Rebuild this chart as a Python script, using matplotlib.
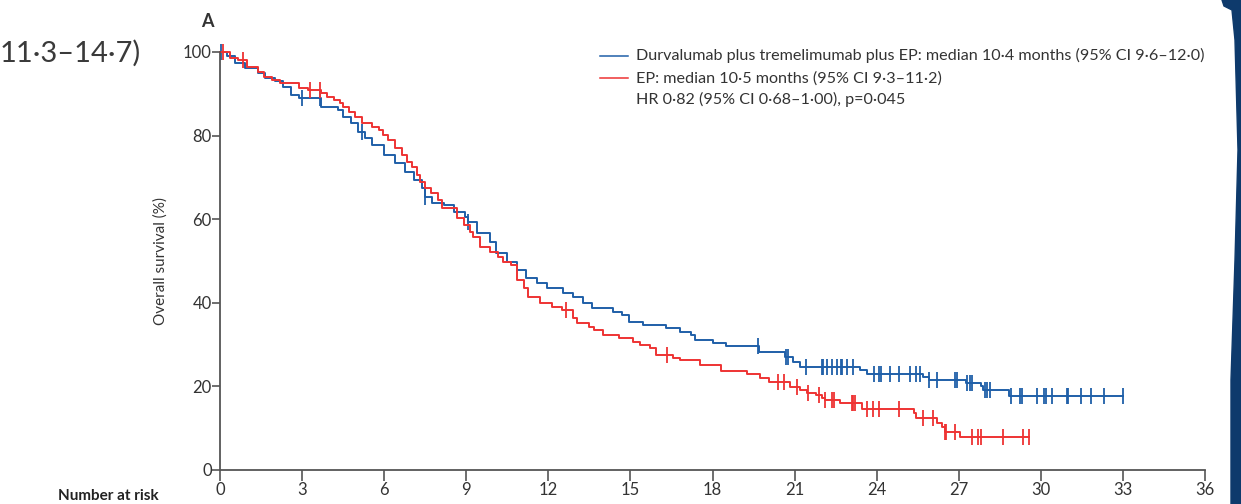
import numpy as np
import matplotlib
matplotlib.use("Agg")
import matplotlib.pyplot as plt
from matplotlib.patches import Polygon

plt.rcParams['font.family'] = ['Lato', 'DejaVu Sans']

# Kaplan-Meier steps (months, % alive)
durva_t = [0, 0.25, 0.55, 0.9, 1.4, 1.65, 2.0, 2.3, 2.6, 2.9, 3.7, 4.3, 4.5, 4.8, 5.05,
           5.3, 5.55, 6.0, 6.4, 6.75, 7.1, 7.4, 7.5, 7.75, 8.2, 8.55, 8.95, 9.05, 9.4,
           9.85, 10.1, 10.5, 10.85, 11.2, 11.6, 11.95, 12.55, 12.9, 13.25, 13.6, 14.35,
           14.7, 14.95, 15.45, 16.3, 16.8, 17.2, 17.35, 18.0, 18.5, 19.7, 20.65, 20.95,
           21.2, 23.4, 23.65, 25.7, 25.9, 27.25, 27.8, 27.9, 28.85, 33.0]
durva_s = [100, 99, 97.4, 96.2, 95, 93.8, 93, 91.6, 89.7, 89, 86.8, 86, 84.5, 83, 80.9,
           79.5, 77.8, 75.4, 73.4, 71.3, 69.4, 67.5, 65.3, 63.9, 63.4, 61.7, 60.5, 59.3, 56.7,
           54.5, 51.9, 49.8, 47.8, 45.9, 44.7, 43.5, 42.3, 41.4, 40, 38.8, 37.8,
           37.1, 35.4, 34.7, 34, 33, 32.3, 31.1, 30.4, 29.7, 28.2, 27, 25.8,
           24.6, 23.9, 22.9, 22.2, 21.5, 20.8, 20.0, 19.2, 17.6, 17.6]
durva_cens = [0.05, 3.0, 3.65, 5.2, 7.5, 9.05, 19.65, 20.7, 20.75, 21.4, 22.0, 22.05, 22.2,
              22.35, 22.55, 22.7, 22.75, 22.9, 23.15, 23.9, 24.1, 24.15, 24.5, 24.8, 25.2,
              25.45, 25.6, 25.9, 26.2, 26.85, 26.95, 27.3, 27.4, 27.5, 27.95, 28.05, 28.15,
              28.9, 29.25, 29.3, 29.85, 30.1, 30.2, 30.4, 30.95, 31.0, 31.45, 31.85, 32.3, 33.0]

ep_t = [0, 0.35, 0.65, 1.0, 1.4, 1.6, 1.9, 2.2, 2.9, 3.2, 3.7, 3.9, 4.15, 4.4, 4.5, 4.7,
        4.95, 5.2, 5.55, 5.8, 5.95, 6.15, 6.4, 6.65, 6.85, 7.0, 7.2, 7.3, 7.5, 7.7, 7.95,
        8.1, 8.65, 8.9, 9.15, 9.25, 9.5, 9.85, 10.15, 10.35, 10.65, 10.85, 11.1, 11.25,
        11.7, 12.15, 12.5, 12.9, 13.05, 13.5, 13.65, 14.0, 14.6, 15.1, 15.35, 15.7, 15.95,
        16.55, 16.8, 17.55, 18.3, 19.25, 19.75, 20.05, 20.85, 21.2, 21.45, 21.8, 22.0,
        22.1, 22.65, 23.45, 25.35, 25.45, 26.2, 26.4, 26.5, 27.05, 29.55]
ep_s = [100, 98.6, 98, 96.4, 95.2, 94, 93.3, 92.6, 91.4, 90.9, 90.2, 89.2, 88.5, 87.8, 86.8, 85.6,
        84.4, 83, 82.1, 81.3, 80.1, 78.9, 77, 75.4, 73.7, 72.5, 70.6, 68.9, 67.5, 66.3, 64.6,
        62.7, 60.3, 58.6, 56.9, 55.7, 53.3, 52.2, 51, 49.8, 49, 45.5, 43.5, 41.4,
        40, 39, 38.3, 36.4, 35.2, 34.2, 33.5, 32.3, 31.6, 30.6, 29.9, 29.2, 27.5,
        26.8, 26.3, 25.2, 23.6, 23.0, 22, 21.1, 19.9, 19.1, 18.4, 17.9, 17.2,
        16.7, 16.0, 14.6, 13.6, 12.4, 11.2, 10.3, 9.0, 7.9, 7.9]
ep_cens = [0.1, 0.85, 3.3, 3.65, 12.65, 16.35, 20.4, 20.6, 21.1, 21.5, 21.9, 22.1, 22.35,
           22.45, 23.1, 23.15, 23.2, 23.65, 23.85, 24.1, 24.8, 25.7, 26.05, 26.5, 26.55,
           26.85, 27.5, 27.7, 27.8, 28.6, 29.35, 29.55]

x_ticks = list(range(0, 37, 3))
y_ticks = [0, 20, 40, 60, 80, 100]

blue = '#1f5fa8'
red = '#ee3333'
grey = '#333333'


def surv_at(t, s, c):
    idx = np.searchsorted(t, c, side='right') - 1
    return np.array(s)[idx]


fig = plt.figure(figsize=(12.41, 5.04), dpi=100)
ax = fig.add_axes([0.1773, 0.0675, 0.7937, 0.8294])

for t, s, c, col in [(durva_t, durva_s, durva_cens, blue), (ep_t, ep_s, ep_cens, red)]:
    ax.step(t, s, where='post', color=col, lw=1.4, clip_on=False)
    ax.plot(c, surv_at(t, s, c), ls='none', marker='|', ms=11, mew=1.3,
            color=col, clip_on=False)

ax.set_xlim(0, 36)
ax.set_ylim(0, 100)
ax.set_xticks(x_ticks)
ax.set_yticks(y_ticks)
for side in ['top', 'right']:
    ax.spines[side].set_visible(False)
for side in ['left', 'bottom']:
    ax.spines[side].set_color('#555555')
    ax.spines[side].set_linewidth(1.3)
ax.tick_params(axis='x', length=8, width=1.2, color='#555555', labelsize=12,
               labelcolor=grey, pad=1)
ax.tick_params(axis='y', length=6, width=1.2, color='#555555', labelsize=12,
               labelcolor=grey, pad=0)
ax.set_ylabel('Overall survival (%)', fontsize=11, color=grey, labelpad=11)

# legend written as text lines with short coloured strokes
ly = [0.889, 0.845, 0.803]
fig.add_artist(plt.Line2D([0.4835, 0.506], [ly[0], ly[0]], color=blue, lw=1.1))
fig.add_artist(plt.Line2D([0.4835, 0.506], [ly[1], ly[1]], color=red, lw=1.1))
legend_lines = ['Durvalumab plus tremelimumab plus EP: median 10·4 months (95% CI 9·6–12·0)',
                'EP: median 10·5 months (95% CI 9·3–11·2)',
                'HR 0·82 (95% CI 0·68–1·00), p=0·045']
for txt, y in zip(legend_lines, ly):
    fig.text(0.5125, y, txt, fontsize=11.65, color=grey, va='center')

fig.text(0.162, 0.958, 'A', fontsize=13, color=grey, fontweight='bold', va='center')
fig.text(0.0, 0.895, '11·3–14·7)', fontsize=21, color='#3a3a3a', va='center')
fig.text(0.047, 0.002, 'Number at risk', fontsize=11, color='#222222',
         fontweight='bold', va='bottom')

# page edge decoration on the right
edge_px = [(1222, 0), (1241, 0), (1241, 504), (1231, 504), (1231, 380), (1235, 260),
           (1238, 150), (1235, 40), (1232, 10), (1224, 6)]
edge = Polygon([[x / 1241, 1 - y / 504] for x, y in edge_px], closed=True,
               transform=fig.transFigure, color='#0e3a6c', zorder=5)
fig.patches.append(edge)

fig.savefig('out.png', dpi=100)
